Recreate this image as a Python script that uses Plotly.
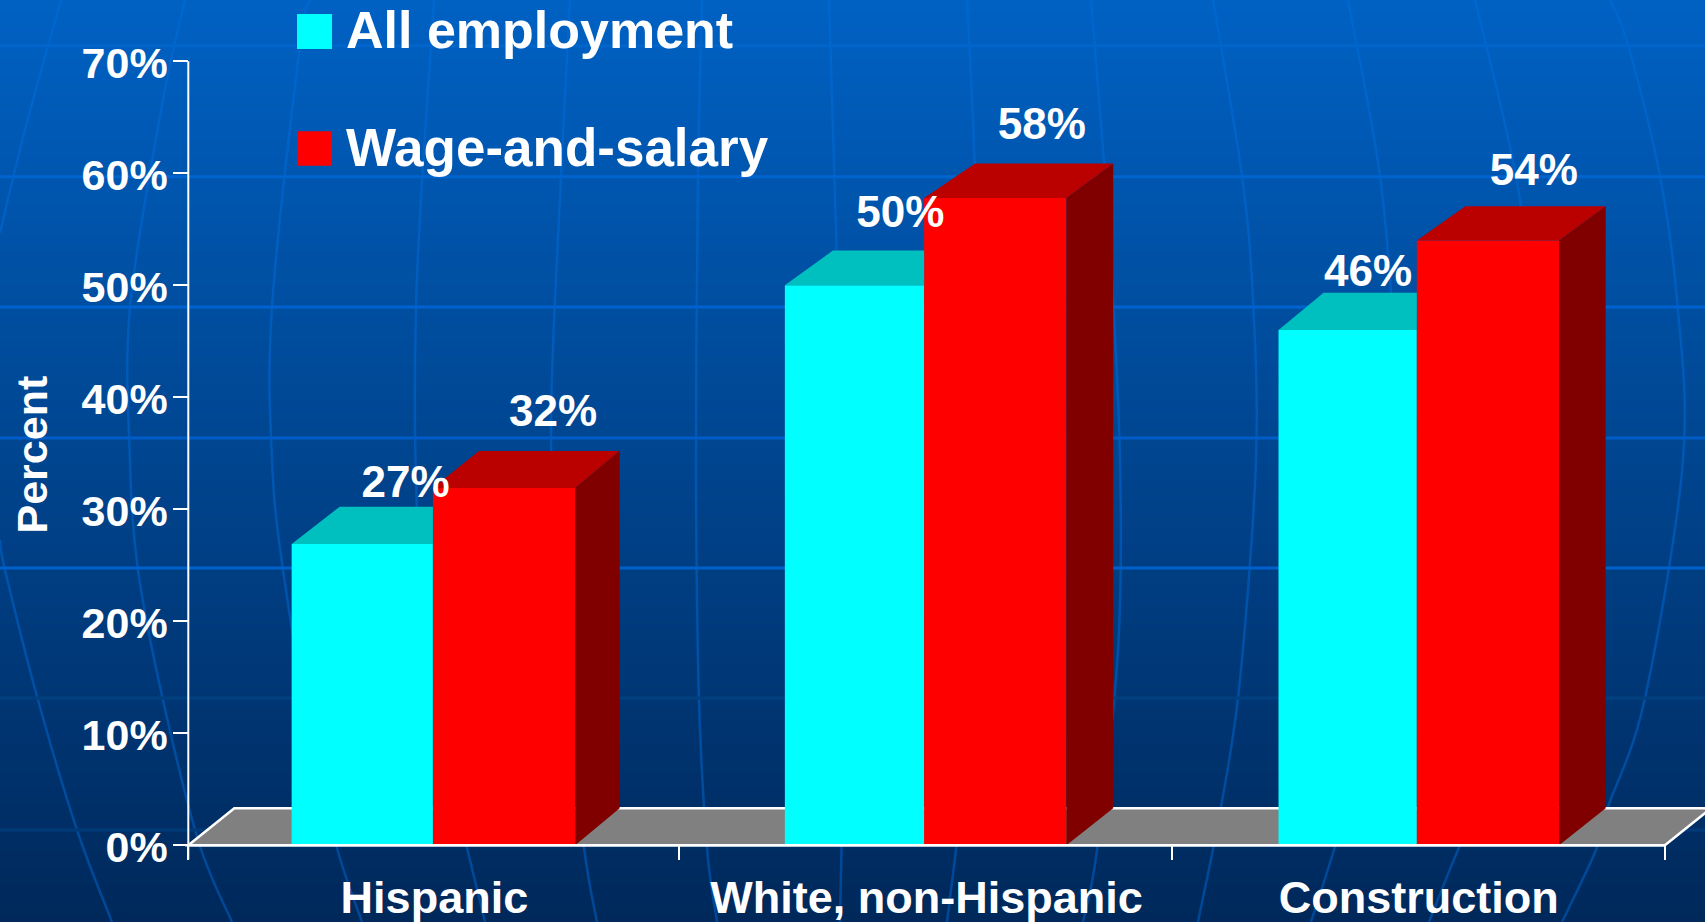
import plotly.graph_objects as go

# ---- data ----
categories = ["Hispanic", "White, non-Hispanic", "Construction"]
series_names = ["All employment", "Wage-and-salary"]
all_employment = [26.9, 50.0, 46.0]
wage_and_salary = [31.9, 57.8, 54.0]
y_ticks = [0, 10, 20, 30, 40, 50, 60, 70]
y_tick_labels = ["0%", "10%", "20%", "30%", "40%", "50%", "60%", "70%"]

# ---- layout constants (pixels of the 1705x922 page) ----
W, H = 1705, 922
X0, CAT_W = 188.3, 492.2   # x pixel of category boundary 0, width of a category
Y0, PCT = 845.3, 11.2      # y pixel of 0 %, pixels per 1 %
FONT = "Liberation Sans, Arial, sans-serif"
WHITE = "#FFFFFF"
CYAN, CYAN_TOP = "#00FFFF", "#00BFBF"
RED, RED_TOP, RED_SIDE = "#FF0000", "#BB0000", "#800000"

FLOOR_DX = 46 / CAT_W
FLOOR_DY = 37 / PCT
CYAN_DX = [48 / CAT_W, 48 / CAT_W, 45 / CAT_W]
RED_LEFT_DX = [46 / CAT_W, 51 / CAT_W, 48.5 / CAT_W]
RED_RIGHT_DX = [44.5 / CAT_W, 46.8 / CAT_W, 46.6 / CAT_W]
CYAN_DY = [37.3 / PCT, 34.7 / PCT, 37.3 / PCT]
RED_DY = [37.0 / PCT, 34.4 / PCT, 34.3 / PCT]
CYAN_W = [0.287, 0.283, 0.281]
RED_W = [0.289, 0.289, 0.289]
SPLIT = [0.497, 1.495, 2.496]   # boundary between the two bars of a group
centres = [0.5, 1.5, 2.5]
BOUNDARIES = [0, 0.996, 1.998, 3]

LABEL_X = [405.6, 900.4, 1368.0, 553.0, 1041.8, 1533.9]
LABEL_Y = [486.2, 216.2, 275.2, 414.5, 128.0, 174.0]


def fx(px):
    return px / W


def fy(py):
    return 1 - py / H


def dx_px(px):
    return (px - X0) / CAT_W


def dy_px(py):
    return (Y0 - py) / PCT


shapes = []

# background gradient
TOP, BOT = (0, 97, 195), (0, 40, 90)
STEP = 4
for y in range(0, H, STEP):
    t = y / H
    c = tuple(round(a + (b - a) * t) for a, b in zip(TOP, BOT))
    shapes.append(dict(type="rect", xref="paper", yref="paper", x0=0, x1=1,
                       y0=fy(y + STEP + 0.5), y1=fy(y), layer="below",
                       line_width=0, fillcolor=f"rgb{c}"))


def smooth(points):
    pts = [(fx(x), fy(y)) for x, y in points]
    d = f"M {pts[0][0]:.5f} {pts[0][1]:.5f}"
    for i in range(len(pts) - 1):
        p0 = pts[max(i - 1, 0)]
        p1, p2 = pts[i], pts[i + 1]
        p3 = pts[min(i + 2, len(pts) - 1)]
        c1 = (p1[0] + (p2[0] - p0[0]) / 6, p1[1] + (p2[1] - p0[1]) / 6)
        c2 = (p2[0] - (p3[0] - p1[0]) / 6, p2[1] - (p3[1] - p1[1]) / 6)
        d += f" C {c1[0]:.5f} {c1[1]:.5f} {c2[0]:.5f} {c2[1]:.5f} {p2[0]:.5f} {p2[1]:.5f}"
    return d


# faint meridians of the background globe
meridians = [
    [(61, 0), (25, 130), (0, 233)],
    [(0, 540), (5, 570), (38, 700), (77, 830), (112, 922)],
    [(185, 0), (163, 100), (130, 307), (130, 460), (138, 570), (163, 700), (199, 843), (232, 922)],
    [(310, 0), (300, 45), (272, 307), (272, 460), (283, 570), (310, 730), (337, 848), (362, 922)],
    [(434, 0), (416, 307), (420, 570), (445, 760), (467, 848), (485, 922)],
    [(570, 0), (561, 176), (551, 430), (560, 650), (584, 848), (597, 922)],
    [(702, 0), (698, 176), (696, 460), (699, 700), (707, 848), (717, 922)],
    [(829, 0), (838, 300), (845, 600), (840, 922)],
    [(967, 0), (975, 176), (980, 460), (975, 700), (956, 850), (947, 922)],
    [(1091, 0), (1109, 233), (1120, 460), (1118, 650), (1097, 850), (1083, 922)],
    [(1213, 0), (1242, 176), (1253, 300), (1256, 460), (1240, 680), (1221, 807), (1198, 922)],
    [(1348, 0), (1380, 176), (1395, 350), (1400, 500), (1380, 700), (1334, 850), (1311, 922)],
    [(1475, 0), (1520, 200), (1535, 400), (1525, 620), (1490, 780), (1458, 850), (1429, 922)],
    [(1610, 0), (1628, 45), (1660, 176), (1677, 300), (1683, 460), (1645, 698), (1608, 807),
     (1596, 850), (1562, 922)],
]
for m in meridians:
    shapes.append(dict(type="path", xref="paper", yref="paper", path=smooth(m),
                       layer="below", line=dict(color="rgba(0,110,225,0.45)", width=2.5)))

# background horizontal bands
for y, col in [(45.7, "#0066CC"), (176.7, "#0064CF"), (307, "#0062D0"), (438, "#005CC8"),
               (568, "#0060CC"), (698, "#00407E"), (830, "#003A78")]:
    shapes.append(dict(type="line", xref="paper", yref="paper", x0=0, x1=1,
                       y0=fy(y), y1=fy(y), layer="below", line=dict(color=col, width=3)))

# floor
shapes.append(dict(type="path", xref="x", yref="y", layer="below", fillcolor="#808080",
                   line=dict(color=WHITE, width=2.5),
                   path=f"M 0 0 L {FLOOR_DX} {FLOOR_DY} L {3 + FLOOR_DX} {FLOOR_DY} L 3 0 Z"))

# axis lines
shapes.append(dict(type="line", xref="x", yref="y", x0=0, x1=0, y0=-14 / PCT, y1=y_ticks[-1],
                   layer="above", line=dict(color=WHITE, width=2)))
shapes.append(dict(type="line", xref="x", yref="y", x0=0, x1=3, y0=0, y1=0,
                   layer="above", line=dict(color=WHITE, width=2.5)))

fig = go.Figure()

# front faces
cyan_base = [s - w - c for s, w, c in zip(SPLIT, CYAN_W, centres)]
red_base = [s - c for s, c in zip(SPLIT, centres)]
fig.add_bar(x=centres, y=all_employment, width=CYAN_W, offset=cyan_base, name=series_names[0],
            marker=dict(color=CYAN, line_width=0), hoverinfo="y", showlegend=False)
fig.add_bar(x=centres, y=wage_and_salary, width=RED_W, offset=red_base, name=series_names[1],
            marker=dict(color=RED, line_width=0), hoverinfo="y", showlegend=False)


def polygon(xs, ys, color):
    fig.add_scatter(x=xs, y=ys, mode="lines", fill="toself", fillcolor=color,
                    line=dict(width=0, color=color), hoverinfo="skip", showlegend=False)


# top and side faces, worked out from the same values
for i in range(len(categories)):
    s = SPLIT[i]
    left = s - CYAN_W[i]
    v, d = all_employment[i], CYAN_DY[i]
    polygon([left, left + CYAN_DX[i], s, s, left], [v, v + d, v + d, v, v], CYAN_TOP)
    right = s + RED_W[i]
    v, d = wage_and_salary[i], RED_DY[i]
    rd = RED_RIGHT_DX[i]
    polygon([s, s + RED_LEFT_DX[i], right + rd, right, s], [v, v + d, v + d, v, v], RED_TOP)
    polygon([right, right + rd, right + rd, right, right], [v, v + d, FLOOR_DY, 0, v], RED_SIDE)

# value labels
values = all_employment + wage_and_salary
fig.add_scatter(x=[dx_px(p) for p in LABEL_X], y=[dy_px(p) for p in LABEL_Y], mode="text",
                text=[f"{round(v)}%" for v in values], textposition="middle center",
                textfont=dict(family=FONT, size=44, color=WHITE, weight="bold"),
                hoverinfo="skip", showlegend=False)

annotations = [
    dict(text="<b>Percent</b>", xref="paper", yref="paper", x=fx(31), y=fy(454.5), textangle=-90,
         showarrow=False, xanchor="center", yanchor="middle",
         font=dict(family=FONT, size=43, color=WHITE)),
]
for name, col, top, bottom, size in zip(series_names, [CYAN, RED], [14, 131.3], [49, 165.7], [52, 53]):
    shapes.append(dict(type="rect", xref="paper", yref="paper", x0=fx(297), x1=fx(332),
                       y0=fy(bottom), y1=fy(top), layer="above", line_width=0, fillcolor=col))
    annotations.append(dict(text=f"<b>{name}</b>", xref="paper", yref="paper", x=fx(344),
                            y=fy((top + bottom) / 2 - 1), xanchor="left", yanchor="middle",
                            showarrow=False, font=dict(family=FONT, size=size, color=WHITE)))

fig.update_layout(
    width=W, height=H, autosize=False, margin=dict(l=0, r=0, t=0, b=0, pad=0, autoexpand=False),
    paper_bgcolor="#003B7A", plot_bgcolor="rgba(0,0,0,0)", barmode="overlay",
    shapes=shapes, annotations=annotations, showlegend=False,
    xaxis=dict(domain=[0, 1], range=[dx_px(0), dx_px(W)], tickmode="array", tickvals=centres,
               ticktext=categories, ticks="", showgrid=False, zeroline=False, showline=False,
               anchor="free", position=fy(Y0), ticklabelstandoff=22, automargin=False,
               tickfont=dict(family=FONT, size=45, color=WHITE, weight="bold"),
               minor=dict(tickmode="array", tickvals=BOUNDARIES, ticks="outside", ticklen=14,
                          tickwidth=2, tickcolor=WHITE, showgrid=False)),
    yaxis=dict(domain=[0, 1], range=[dy_px(H), dy_px(0)], tickmode="array", tickvals=y_ticks,
               ticktext=y_tick_labels, ticks="outside", ticklen=15, tickwidth=2, tickcolor=WHITE,
               showgrid=False, zeroline=False, showline=False, anchor="free", position=fx(X0),
               ticklabelshift=2, ticklabelstandoff=-3, automargin=False,
               tickfont=dict(family=FONT, size=43, color=WHITE, weight="bold")),
)

fig.write_html("out.html", post_script="document.body.style.margin='0';document.body.style.overflow='hidden';",
               config=dict(displayModeBar=False))
